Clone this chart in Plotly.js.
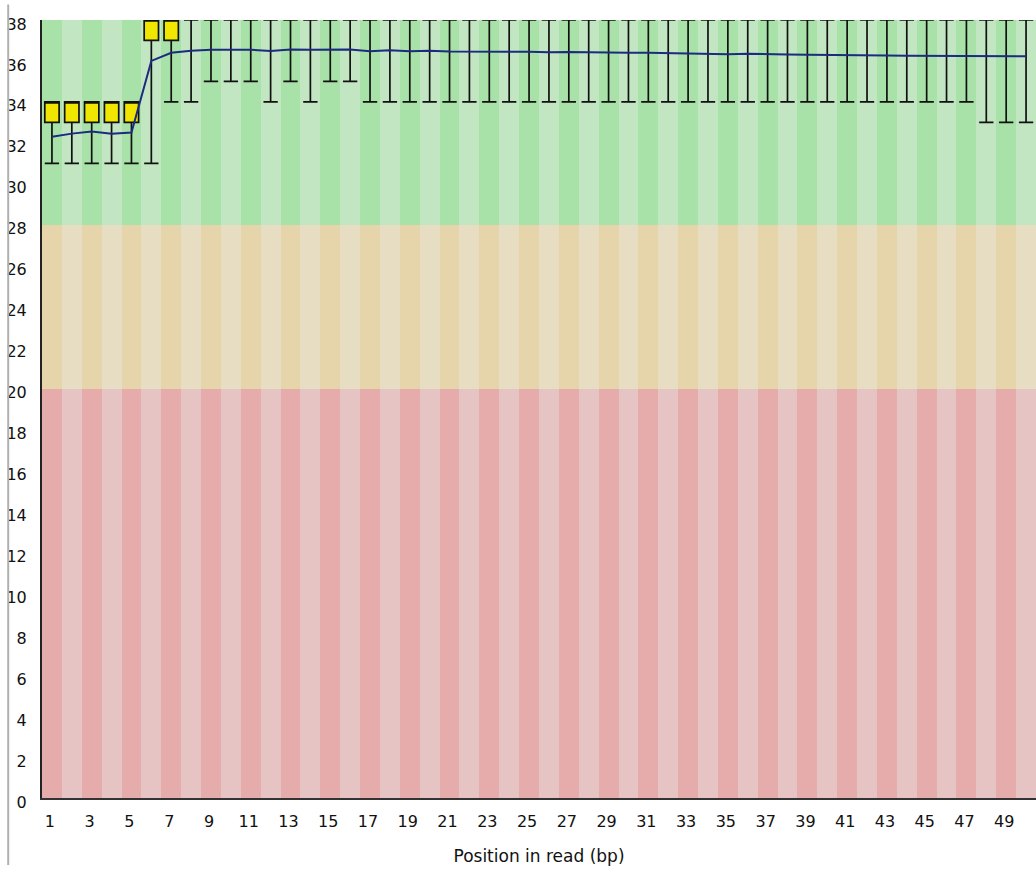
<!DOCTYPE html>
<html>
<head>
<meta charset="utf-8">
<script src="https://cdn.plot.ly/plotly-3.0.1.min.js"></script>
<style>
  html, body { margin: 0; padding: 0; background: #ffffff; }
  #chart { width: 1036px; height: 870px; }
</style>
</head>
<body>
<div id="chart"></div>
<script>
// Position in read (bp)
const positions = Array.from({length: 50}, (_, i) => i + 1);

// Quality score distribution per position
const lowerWhisker = [31,31,31,31,31,31,34,34,35,35,35,34,35,34,35,35,34,34,34,34,
                      34,34,34,34,34,34,34,34,34,34,34,34,34,34,34,34,34,34,34,34,
                      34,34,34,34,34,34,34,33,33,33];
const lowerQuartile = [33,33,33,33,33,37,37,38,38,38,38,38,38,38,38,38,38,38,38,38,
                       38,38,38,38,38,38,38,38,38,38,38,38,38,38,38,38,38,38,38,38,
                       38,38,38,38,38,38,38,38,38,38];
const medianQ = [34,34,34,34,34,38,38,38,38,38,38,38,38,38,38,38,38,38,38,38,
                 38,38,38,38,38,38,38,38,38,38,38,38,38,38,38,38,38,38,38,38,
                 38,38,38,38,38,38,38,38,38,38];
const upperQuartile = [34,34,34,34,34,38,38,38,38,38,38,38,38,38,38,38,38,38,38,38,
                       38,38,38,38,38,38,38,38,38,38,38,38,38,38,38,38,38,38,38,38,
                       38,38,38,38,38,38,38,38,38,38];
const upperWhisker = [34,34,34,34,34,38,38,38,38,38,38,38,38,38,38,38,38,38,38,38,
                      38,38,38,38,38,38,38,38,38,38,38,38,38,38,38,38,38,38,38,38,
                      38,38,38,38,38,38,38,38,38,38];
const meanQ = [32.3,32.45,32.55,32.45,32.5,36.0,36.4,36.5,36.55,36.55,
               36.55,36.48,36.56,36.55,36.56,36.56,36.47,36.52,36.47,36.5,
               36.46,36.46,36.46,36.46,36.45,36.42,36.44,36.42,36.4,36.4,
               36.4,36.38,36.38,36.35,36.33,36.35,36.32,36.32,36.3,36.3,
               36.3,36.3,36.27,36.25,36.25,36.25,36.24,36.24,36.23,36.23];

// Quality zones: [base, top]
const zoneBad = [0, 20];
const zoneOk = [20, 28];
const zoneGood = [28, 38];

const xTickVals = positions.filter(p => p % 2 === 1);
const yTickVals = Array.from({length: 20}, (_, i) => i * 2);

function alt(dark, light) {
  return positions.map(p => (p % 2 === 1 ? dark : light));
}
function zoneTrace(zone, dark, light) {
  return {
    type: 'bar',
    x: positions,
    y: positions.map(() => zone[1] - zone[0]),
    base: positions.map(() => zone[0]),
    width: 1,
    marker: {color: alt(dark, light), line: {width: 0}},
    hoverinfo: 'skip',
    showlegend: false
  };
}

const traces = [
  zoneTrace(zoneBad, 'rgb(230,172,172)', 'rgb(230,196,196)'),
  zoneTrace(zoneOk, 'rgb(230,212,170)', 'rgb(230,221,194)'),
  zoneTrace(zoneGood, 'rgb(168,226,168)', 'rgb(194,230,194)'),
  {
    type: 'box',
    x: positions,
    q1: lowerQuartile,
    median: medianQ,
    q3: upperQuartile,
    lowerfence: lowerWhisker,
    upperfence: upperWhisker,
    width: 0.72,
    whiskerwidth: 1,
    boxpoints: false,
    fillcolor: 'rgb(240,230,0)',
    line: {color: '#111111', width: 1.7},
    showlegend: false
  },
  {
    type: 'scatter',
    mode: 'lines',
    x: positions,
    y: meanQ,
    line: {color: '#1c2a80', width: 2},
    showlegend: false
  }
];

const layout = {
  width: 1036,
  height: 870,
  margin: {l: 42, r: 0, t: 20, b: 72},
  paper_bgcolor: '#ffffff',
  plot_bgcolor: '#ffffff',
  barmode: 'overlay',
  bargap: 0,
  showlegend: false,
  font: {family: 'DejaVu Sans, sans-serif', color: '#111111'},
  xaxis: {
    type: 'linear',
    range: [0.5, 50.5],
    tickvals: xTickVals,
    ticktext: xTickVals.map(String),
    ticks: '',
    showgrid: false,
    zeroline: false,
    showline: true,
    linecolor: '#333333',
    linewidth: 2,
    ticklabelstandoff: 8,
    ticklabelshift: -2,
    tickfont: {size: 16, family: 'DejaVu Sans, sans-serif', color: '#111111'},
    title: {text: 'Position in read (bp)', standoff: 20,
            font: {size: 17, family: 'DejaVu Sans, sans-serif', color: '#111111'}}
  },
  yaxis: {
    range: [0, 38],
    tickvals: yTickVals,
    ticktext: yTickVals.map(String),
    ticks: '',
    showgrid: false,
    zeroline: false,
    showline: true,
    linecolor: '#222222',
    linewidth: 2,
    ticklabelstandoff: 10,
    ticklabelshift: 4,
    tickfont: {size: 16, family: 'DejaVu Sans, sans-serif', color: '#111111'}
  },
  shapes: [
    {type: 'line', xref: 'paper', yref: 'paper', x0: -0.034, x1: -0.034, y0: -0.086, y1: 1.02,
     line: {color: '#b0b0b0', width: 2}}
  ]
};

Plotly.newPlot('chart', traces, layout, {displayModeBar: false, staticPlot: true});
</script>
</body>
</html>
